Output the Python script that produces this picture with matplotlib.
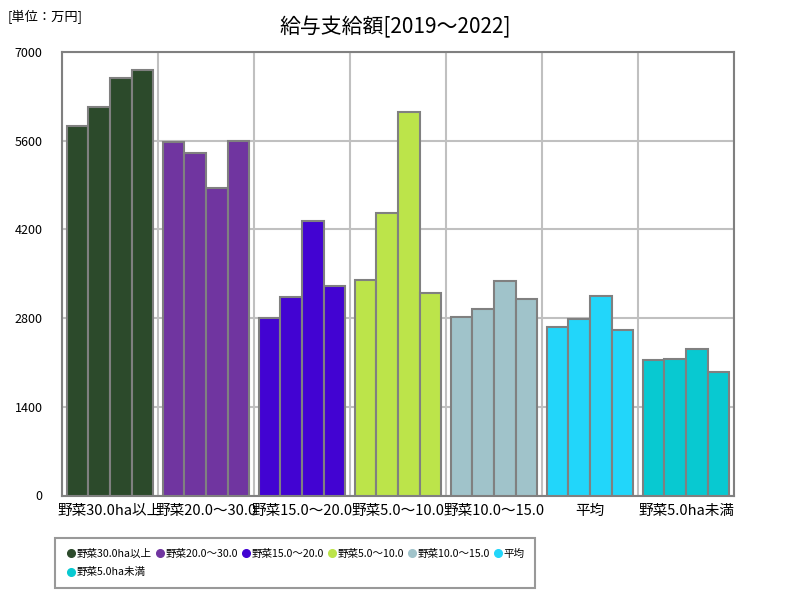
import matplotlib
matplotlib.use("Agg")
import matplotlib.pyplot as plt
import numpy as np
from matplotlib.lines import Line2D

plt.rcParams['font.family'] = ['Noto Sans CJK JP', 'DejaVu Sans']

categories = ["野菜30.0ha以上", "野菜20.0～30.0", "野菜15.0～20.0", "野菜5.0～10.0",
              "野菜10.0～15.0", "平均", "野菜5.0ha未満"]
tick_labels = ["野菜30.0ha以上", "野菜20.0～30.0", "野菜15.0～20.0", "野菜5.0～10.0",
               "野菜10.0～15.0", "平均", "野菜5.0ha未満"]
years = [2019, 2020, 2021, 2022]
values = [
    [5830, 6130, 6590, 6716],
    [5585, 5400, 4853, 5600],
    [2802, 3133, 4333, 3307],
    [3401, 4459, 6053, 3196],
    [2820, 2947, 3391, 3106],
    [2662, 2789, 3154, 2605],
    [2139, 2161, 2320, 1949],
]
colors = ["#2c4a2b", "#7035a0", "#4203d2", "#bce44a", "#a0c3ca", "#22d6fa", "#08c9d1"]
yticks = [0, 1400, 2800, 4200, 5600, 7000]

fig = plt.figure(figsize=(8, 6), dpi=100)
ax = fig.add_axes([62/800, 1-495.5/600, 672/800, 443.5/600])

n = len(years)
bw = 0.225
for i, (cat, vals, c) in enumerate(zip(categories, values, colors)):
    x = i + 0.5 + (np.arange(n) - (n-1)/2) * bw
    ax.bar(x, vals, width=bw, color=c, edgecolor="#808080", linewidth=1.5, zorder=3)

ax.set_xlim(0, len(categories))
ax.set_ylim(0, 7000)
ax.set_yticks(yticks)
ax.set_yticklabels([str(v) for v in yticks], fontsize=9)
ax.set_xticks(np.arange(len(categories)) + 0.5)
ax.set_xticklabels(tick_labels, fontsize=10.5)
ax.set_xticks(np.arange(len(categories)+1), minor=True)
ax.tick_params(axis='both', which='both', length=0)
ax.tick_params(axis='x', pad=6)
ax.tick_params(axis='y', pad=14)
ax.grid(True, axis='y', color="#c0c0c0", linewidth=1.5, zorder=0)
ax.grid(True, axis='x', which='minor', color="#c0c0c0", linewidth=1.5, zorder=0)
for s in ax.spines.values():
    s.set_color("#808080")
    s.set_linewidth(1.5)

fig.text(395/800, 1-27/600, "給与支給額[2019～2022]", ha='center', va='center', fontsize=15)
fig.text(8/800, 1-17/600, "[単位：万円]", ha='left', va='center', fontsize=9.5)

handles = [Line2D([0], [0], marker='o', linestyle='', markersize=5.5, markerfacecolor=c,
                  markeredgecolor=c, label=cat) for cat, c in zip(categories, colors)]
order = [0, 6, 1, 2, 3, 4, 5]
leg = fig.legend(handles=[handles[k] for k in order], loc='upper left',
                 bbox_to_anchor=(50/800, 1-533/600),
                 ncol=6, fontsize=7.6, frameon=True, fancybox=False, borderpad=1.0,
                 handletextpad=0.0, columnspacing=0.3, handlelength=1.0, labelspacing=0.8)
leg.get_frame().set_edgecolor("#808080")
leg.get_frame().set_linewidth(1.5)

fig.savefig("out.png", dpi=100)
